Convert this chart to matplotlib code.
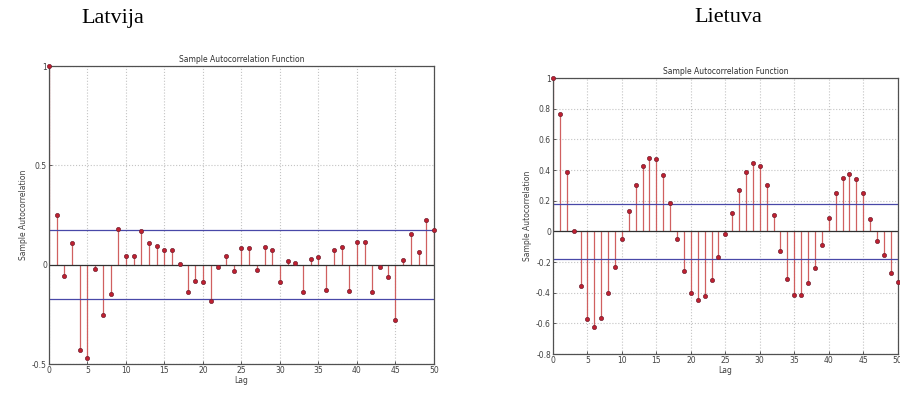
import numpy as np
import matplotlib
matplotlib.use("Agg")
import matplotlib.pyplot as plt

# Sample autocorrelations (lag 0..50)
lags = np.arange(0, 51)

acf_latvija = [
    1.0, 0.25, -0.055, 0.11, -0.43, -0.47, -0.02, -0.255, -0.15, 0.18,
    0.045, 0.045, 0.17, 0.11, 0.092, 0.072, 0.072, 0.005, -0.14, -0.083,
    -0.085, -0.185, -0.01, 0.042, -0.034, 0.084, 0.086, -0.027, 0.088, 0.072,
    -0.087, 0.018, 0.008, -0.138, 0.03, 0.039, -0.126, 0.076, 0.087, -0.13,
    0.115, 0.115, -0.138, -0.012, -0.062, -0.278, 0.025, 0.153, 0.064, 0.227,
    0.177,
]

acf_lietuva = [
    1.0, 0.764, 0.385, 0.002, -0.357, -0.573, -0.627, -0.562, -0.404, -0.233,
    -0.047, 0.132, 0.305, 0.424, 0.478, 0.47, 0.366, 0.186, -0.05, -0.26,
    -0.404, -0.446, -0.42, -0.318, -0.167, -0.02, 0.121, 0.268, 0.385, 0.446,
    0.428, 0.305, 0.104, -0.125, -0.31, -0.415, -0.415, -0.34, -0.24, -0.09,
    0.089, 0.251, 0.349, 0.375, 0.342, 0.247, 0.083, -0.063, -0.156, -0.27,
    -0.33,
]

bound_latvija = 0.174
bound_lietuva = 0.178

countries = ["Latvija", "Lietuva"]
yticks_latvija = [-0.5, 0, 0.5, 1]
yticks_lietuva = [-0.8, -0.6, -0.4, -0.2, 0, 0.2, 0.4, 0.6, 0.8, 1]
xticks = [0, 5, 10, 15, 20, 25, 30, 35, 40, 45, 50]

fig = plt.figure(figsize=(9, 3.97), dpi=100)
fig.patch.set_facecolor("white")

ax1 = fig.add_axes([0.0544, 0.0831, 0.4278, 0.7506])
ax2 = fig.add_axes([0.6144, 0.1083, 0.3830, 0.6952])

def acf_plot(ax, vals, bound, yticks, ylim):
    ax.set_xlim(0, 50)
    ax.set_ylim(*ylim)
    ax.set_xticks(xticks)
    ax.set_yticks(yticks)
    ax.set_xticklabels([str(t) for t in xticks])
    ax.set_yticklabels([("%g" % t) for t in yticks])
    ax.grid(True, linestyle=":", color="#c4c4c4", linewidth=0.8)
    ax.set_axisbelow(True)
    ax.vlines(lags, 0, vals, color="#d06060", linewidth=0.9, zorder=2)
    ax.plot(lags, vals, linestyle="none", marker="o", markersize=3,
            markerfacecolor="#c02030", markeredgecolor="#702030",
            markeredgewidth=0.5, zorder=3, clip_on=False)
    ax.axhline(0, color="#303030", linewidth=0.9, zorder=2)
    ax.axhline(bound, color="#4848a8", linewidth=0.9, zorder=2)
    ax.axhline(-bound, color="#4848a8", linewidth=0.9, zorder=2)
    ax.tick_params(direction="in", length=2.5, width=0.6, labelsize=5.5,
                   colors="#404040", pad=1.5)
    for s in ax.spines.values():
        s.set_color("#505050")
        s.set_linewidth(0.9)
    ax.set_title("Sample Autocorrelation Function", fontsize=5.5,
                 color="#303030", pad=3)
    ax.set_xlabel("Lag", fontsize=5.5, color="#404040", labelpad=1)
    ax.set_ylabel("Sample Autocorrelation", fontsize=5.5, color="#404040",
                  labelpad=3)

acf_plot(ax1, acf_latvija, bound_latvija, yticks_latvija, (-0.5, 1))
acf_plot(ax2, acf_lietuva, bound_lietuva, yticks_lietuva, (-0.8, 1))

fig.text(113 / 900, 1 - 18 / 397, countries[0], ha="center", va="center",
         fontsize=16, family="Liberation Serif")
fig.text(728 / 900, 1 - 18 / 397, countries[1], ha="center", va="center",
         fontsize=16, family="Liberation Serif")

fig.savefig("out.png", dpi=100, facecolor="white")
